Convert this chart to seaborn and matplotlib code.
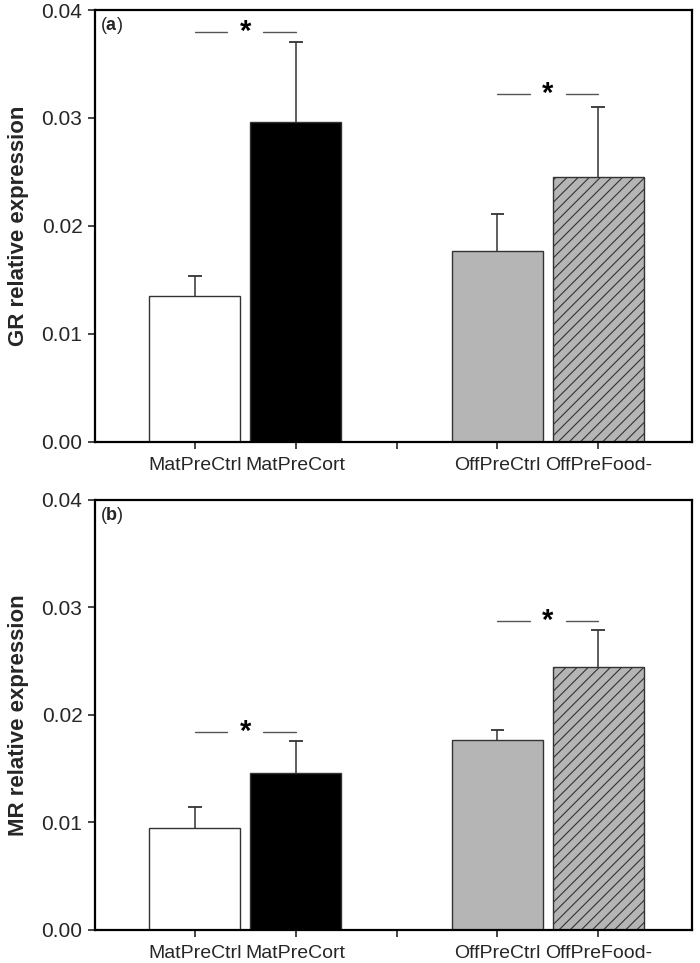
import matplotlib
matplotlib.use("Agg")
import matplotlib.pyplot as plt
import seaborn as sns
import pandas as pd
import numpy as np

# groups on the x axis (blank slot between the two pairs)
groups = ["MatPreCtrl", "MatPreCort", "OffPreCtrl", "OffPreFood-"]
order = ["MatPreCtrl", "MatPreCort", "", "OffPreCtrl", "OffPreFood-"]

# panel (a) GR
gr_mean = [0.0135, 0.0296, 0.0177, 0.0245]
gr_err = [0.0019, 0.0074, 0.0034, 0.0065]
# panel (b) MR
mr_mean = [0.0095, 0.0146, 0.0177, 0.0245]
mr_err = [0.0019, 0.0030, 0.0009, 0.0034]

# significance markers: (left group, right group, y)
gr_sig = [(0, 1, 0.0380), (2, 3, 0.0322)]
mr_sig = [(0, 1, 0.0184), (2, 3, 0.0287)]

colors = {"MatPreCtrl": "white", "MatPreCort": "black",
          "OffPreCtrl": "#b5b5b5", "OffPreFood-": "#b5b5b5"}
hatches = {"OffPreFood-": "///"}

sns.set_style("ticks")
plt.rcParams["font.family"] = ["Liberation Sans", "DejaVu Sans"]
plt.rcParams["mathtext.fontset"] = "custom"
plt.rcParams["mathtext.rm"] = "Liberation Sans"
plt.rcParams["mathtext.bf"] = "Liberation Sans:bold"
plt.rcParams["hatch.color"] = "#333333"
plt.rcParams["hatch.linewidth"] = 0.8

fig = plt.figure(figsize=(7, 9.63), dpi=100)
ax_a = fig.add_axes([0.1357, 0.5413, 0.8529, 0.4483])
ax_b = fig.add_axes([0.1357, 0.0345, 0.8529, 0.4463])


def draw_panel(ax, means, errs, sig, ylabel, tag):
    df = pd.DataFrame({"group": groups, "value": means})
    sns.barplot(data=df, x="group", y="value", hue="group", order=order,
                hue_order=groups, palette=colors, width=0.9, legend=False,
                edgecolor="#333333", linewidth=1.0, ax=ax, errorbar=None)
    for p in ax.patches:
        idx = int(round(p.get_x() + p.get_width() / 2))
        name = order[idx]
        if name in hatches:
            p.set_hatch(hatches[name])
    # upper-only error bars
    xs = np.array([order.index(g) for g in groups])
    tops = np.array(means) + np.array(errs)
    ax.vlines(xs, means, tops, color="#333333", lw=1.1, zorder=1)
    ax.hlines(tops, xs - 0.068, xs + 0.068, color="#333333", lw=1.3, zorder=1)
    for i, j, y in sig:
        xi, xj = xs[i], xs[j]
        mid = (xi + xj) / 2
        ax.plot([xi, mid - 0.18], [y, y], color="#555555", lw=1.0)
        ax.plot([mid + 0.18, xj], [y, y], color="#555555", lw=1.0)
        ax.text(mid, y, "*", ha="center", va="center", fontsize=21,
                fontweight="bold", color="black")
    ax.set_xlim(-0.99, 4.93)
    ax.set_ylim(0, 0.04)
    ax.set_yticks([0, 0.01, 0.02, 0.03, 0.04])
    ax.set_yticklabels(["0.00", "0.01", "0.02", "0.03", "0.04"])
    ax.set_xticks(range(5))
    ax.set_xticklabels(order)
    ax.tick_params(axis="y", labelsize=15, length=5, width=1.2, pad=4)
    ax.tick_params(axis="x", labelsize=14, length=5, width=1.2, pad=6)
    ax.set_xlabel("")
    ax.set_ylabel(ylabel, fontsize=16, fontweight="bold", labelpad=9)
    for s in ax.spines.values():
        s.set_visible(True)
        s.set_linewidth(1.6)
        s.set_color("black")
    ax.text(0.008, 0.988, "($\\mathbf{" + tag + "}$)", transform=ax.transAxes,
            ha="left", va="top", fontsize=13)


draw_panel(ax_a, gr_mean, gr_err, gr_sig, "GR relative expression", "a")
draw_panel(ax_b, mr_mean, mr_err, mr_sig, "MR relative expression", "b")

fig.savefig("out.png", dpi=100)
